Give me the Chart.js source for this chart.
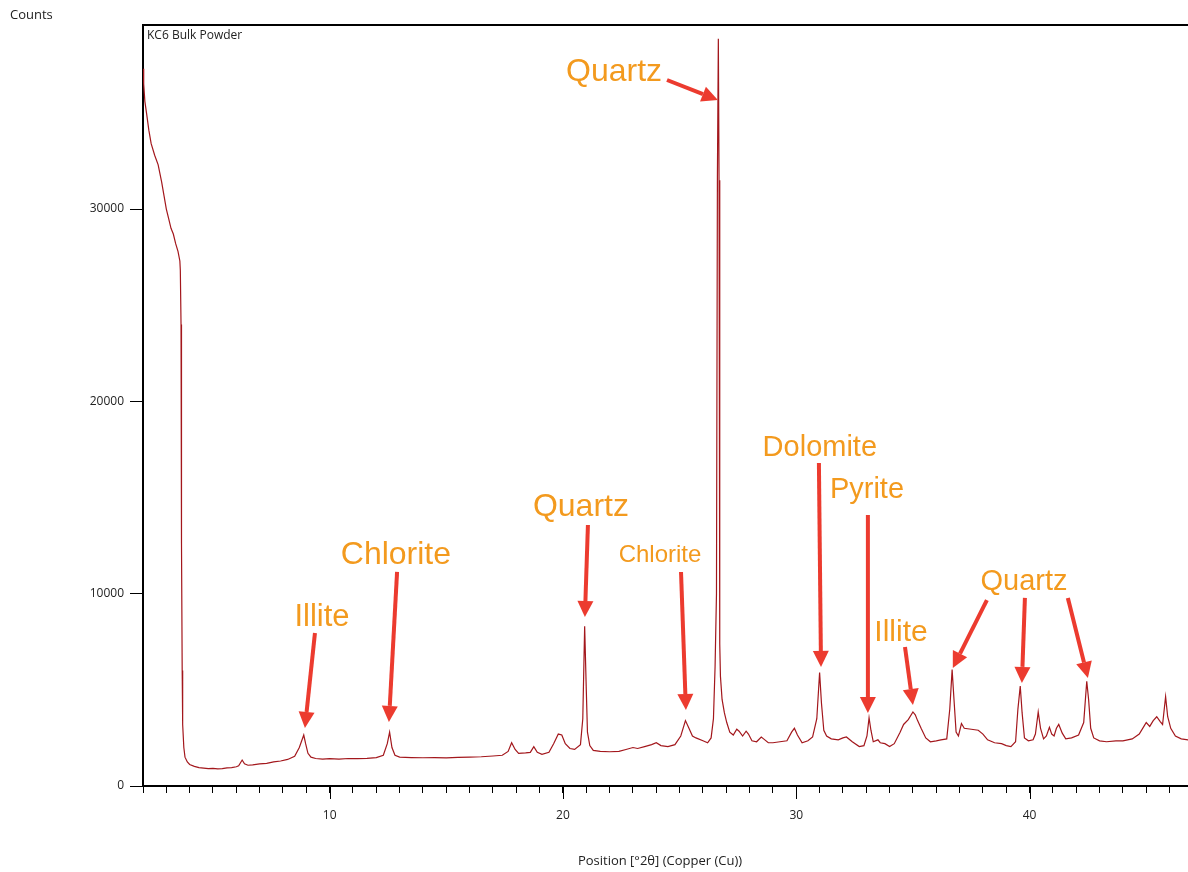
<!DOCTYPE html>
<html lang="en">
<head>
  <meta charset="UTF-8" />
  <title>KC6 Bulk Powder</title>
  <script src="https://cdn.jsdelivr.net/npm/chart.js"></script>
  <style>
    html, body { margin: 0; padding: 0; background: #fff; }
    #wrap { width: 1188px; height: 872px; position: relative; }
  </style>
</head>
<body>
  <div id="wrap"><canvas id="xrd"></canvas></div>

  <script>
    // diffraction pattern: position (°2θ) and counts
    const twoTheta = [
      2.00, 2.03, 2.08, 2.15, 2.25, 2.35, 2.50, 2.65, 2.80, 2.90, 3.00, 3.10, 3.20, 3.30, 3.40, 3.50, 3.58, 3.60,
      3.63, 3.64, 3.66, 3.68, 3.70, 3.75, 3.80, 3.90, 4.00, 4.20, 4.40, 4.60, 4.80, 5.00, 5.20, 5.40, 5.60, 5.80,
      6.00, 6.10, 6.25, 6.35, 6.50, 6.70, 7.00, 7.30, 7.60, 7.90, 8.20, 8.50, 8.70, 8.89, 8.97, 9.07, 9.20, 9.40,
      9.70, 10.0, 10.4, 10.8, 11.2, 11.6, 12.0, 12.3, 12.47, 12.57, 12.67, 12.8, 13.0, 13.5, 14.0, 14.5, 15.0, 15.5,
      16.0, 16.5, 17.0, 17.4, 17.65, 17.8, 17.95, 18.1, 18.4, 18.6, 18.75, 18.9, 19.1, 19.4, 19.6, 19.8, 19.95, 20.1,
      20.3, 20.5, 20.75, 20.85, 20.93, 21.0, 21.05, 21.15, 21.3, 21.6, 22.0, 22.4, 22.7, 23.0, 23.2, 23.5, 23.8, 24.0,
      24.2, 24.5, 24.8, 25.05, 25.25, 25.4, 25.55, 25.7, 26.0, 26.2, 26.35, 26.45, 26.52, 26.58, 26.62, 26.66, 26.69,
      26.72, 26.75, 26.82, 26.92, 27.02, 27.15, 27.3, 27.45, 27.55, 27.7, 27.85, 27.95, 28.1, 28.3, 28.5, 28.6, 28.8,
      29.0, 29.3, 29.6, 29.8, 29.92, 30.05, 30.25, 30.5, 30.7, 30.88, 31.0, 31.08, 31.18, 31.3, 31.5, 31.8, 32.0,
      32.15, 32.4, 32.7, 32.9, 33.03, 33.12, 33.2, 33.3, 33.5, 33.6, 33.8, 34.0, 34.2, 34.45, 34.6, 34.8, 35.0,
      35.1, 35.2, 35.35, 35.55, 35.75, 36.0, 36.2, 36.45, 36.58, 36.68, 36.76, 36.85, 36.95, 37.08, 37.2, 37.5,
      37.8, 38.0, 38.2, 38.5, 38.8, 39.0, 39.2, 39.4, 39.5, 39.6, 39.68, 39.78, 39.95, 40.15, 40.25, 40.37, 40.47,
      40.6, 40.72, 40.85, 40.95, 41.05, 41.15, 41.25, 41.4, 41.55, 41.8, 42.1, 42.32, 42.45, 42.53, 42.62, 42.75,
      43.0, 43.3, 43.7, 44.0, 44.4, 44.7, 44.9, 45.0, 45.15, 45.3, 45.45, 45.6, 45.7, 45.83, 45.92, 46.05, 46.25,
      46.5, 46.8
    ];
    const counts = [
      37300, 36500, 35600, 35000, 34100, 33400, 32800, 32300, 31400, 30700, 30000, 29500, 29000, 28700, 28200, 27800, 27300, 26800,
      24000, 13000, 12600, 6000, 3200, 2000, 1500, 1250, 1120, 1020, 960, 930, 900, 920, 890, 900, 940, 960,
      1000, 1050, 1350, 1150, 1080, 1100, 1150, 1180, 1250, 1300, 1380, 1550, 2000, 2650, 2200, 1700, 1500, 1430,
      1400, 1420, 1400, 1430, 1420, 1440, 1480, 1600, 2200, 2800, 2000, 1600, 1500, 1480, 1470, 1480, 1460, 1490,
      1500, 1520, 1560, 1600, 1800, 2250, 1900, 1700, 1720, 1750, 2050, 1750, 1650, 1750, 2200, 2700, 2650, 2200,
      1950, 1900, 2150, 3500, 8300, 5000, 2800, 2100, 1850, 1800, 1780, 1800, 1900, 2000, 1950, 2050, 2150, 2250,
      2100, 2050, 2150, 2600, 3400, 3000, 2600, 2500, 2350, 2250, 2500, 3500, 6200, 10000, 31700, 38850, 31500,
      7400, 5700, 4500, 3800, 3300, 2800, 2650, 2950, 2850, 2600, 2850, 2700, 2350, 2300, 2550, 2450, 2250,
      2250, 2300, 2350, 2800, 3000, 2650, 2250, 2350, 2550, 3500, 5900, 4300, 2900, 2600, 2450, 2400, 2500,
      2550, 2300, 2050, 2100, 2600, 3550, 2900, 2300, 2400, 2250, 2200, 2050, 2200, 2800, 3200, 3450, 3850,
      3700, 3400, 3000, 2500, 2300, 2350, 2400, 2450, 4000, 6050, 4500, 2800, 2600, 3250, 3000, 2950,
      2900, 2700, 2400, 2250, 2200, 2100, 2050, 2300, 4000, 5200, 3800, 2500, 2350, 2400, 2700, 3850, 3000,
      2450, 2600, 3050, 2700, 2600, 3000, 3200, 2750, 2450, 2500, 2650, 3300, 5450, 4500, 3000, 2500,
      2350, 2300, 2350, 2350, 2450, 2700, 3100, 3300, 3100, 3400, 3600, 3350, 3200, 4650, 3600, 3000, 2600,
      2450, 2400
    ];

    const countTicks = [0, 10000, 20000, 30000];
    const majorTicks = [10, 20, 30, 40];

    // phase labels (position in °2θ / counts) and font size
    const phaseNames = ['Quartz', 'Illite', 'Chlorite', 'Quartz', 'Chlorite', 'Dolomite', 'Pyrite', 'Illite', 'Quartz'];
    const phaseX     = [22.19, 9.67, 12.84, 20.77, 24.16, 31.01, 33.03, 34.49, 39.76];
    const phaseY     = [37130, 8740, 12010, 14510, 12010, 17580, 15390, 7960, 10610];
    const phaseSize  = [32, 31, 32, 32, 24, 29, 29, 30, 29];

    // arrows from label to peak
    const arrowFromX = [24.46, 9.37, 12.89, 21.07, 25.06, 30.97, 33.07, 34.66, 38.17, 39.80, 41.64];
    const arrowFromY = [36710, 7960, 11130, 13570, 11130, 16800, 14090, 7230, 9670, 9780, 9780];
    const arrowToX   = [26.64, 8.94, 12.54, 20.94, 25.27, 31.06, 33.07, 35.00, 36.71, 39.67, 42.50];
    const arrowToY   = [35670, 3020, 3330, 8790, 3950, 6190, 3800, 4210, 6140, 5360, 5620];

    const xMin = 2, xMax = 46.79;
    const yMax = 39570;

    const points = twoTheta.map((t, i) => ({ x: t, y: counts[i] }));

    const uiFont = '"Open Sans", "DejaVu Sans", sans-serif';
    const labelFont = '"Liberation Sans", Arial, sans-serif';

    const decorations = {
      id: 'decorations',
      afterDraw(chart) {
        const { ctx, chartArea, scales } = chart;
        const xs = scales.x, ys = scales.y;
        ctx.save();

        // frame top line
        ctx.strokeStyle = '#000';
        ctx.lineWidth = 2;
        ctx.beginPath();
        ctx.moveTo(chartArea.left - 1, chartArea.top);
        ctx.lineTo(chartArea.right, chartArea.top);
        ctx.stroke();

        // longer ticks at the decades
        ctx.lineWidth = 1;
        majorTicks.forEach(v => {
          const px = Math.round(xs.getPixelForValue(v)) + 0.5;
          ctx.beginPath();
          ctx.moveTo(px, chartArea.bottom);
          ctx.lineTo(px, chartArea.bottom + 13);
          ctx.stroke();
        });

        // texts
        ctx.fillStyle = '#222';
        ctx.font = '12px ' + uiFont;
        ctx.textBaseline = 'middle';
        ctx.textAlign = 'left';
        ctx.fillText('KC6 Bulk Powder', chartArea.left + 4, chartArea.top + 11);
        ctx.font = '13px ' + uiFont;
        ctx.fillText('Counts', 10, 15);
        ctx.textAlign = 'center';
        ctx.fillText('Position [°2θ] (Copper (Cu))', 660, 861);

        // arrows
        ctx.strokeStyle = '#ec3b2f';
        ctx.fillStyle = '#ec3b2f';
        ctx.lineWidth = 4;
        arrowFromX.forEach((fx, i) => {
          const x1 = xs.getPixelForValue(fx), y1 = ys.getPixelForValue(arrowFromY[i]);
          const x2 = xs.getPixelForValue(arrowToX[i]), y2 = ys.getPixelForValue(arrowToY[i]);
          const ang = Math.atan2(y2 - y1, x2 - x1);
          const headLen = 16, headHalf = 8;
          const bx = x2 - headLen * Math.cos(ang), by = y2 - headLen * Math.sin(ang);
          ctx.beginPath();
          ctx.moveTo(x1, y1);
          ctx.lineTo(bx, by);
          ctx.stroke();
          ctx.beginPath();
          ctx.moveTo(x2, y2);
          ctx.lineTo(bx + headHalf * Math.sin(ang), by - headHalf * Math.cos(ang));
          ctx.lineTo(bx - headHalf * Math.sin(ang), by + headHalf * Math.cos(ang));
          ctx.closePath();
          ctx.fill();
        });

        // phase names
        ctx.fillStyle = '#f39a1e';
        ctx.textAlign = 'center';
        ctx.textBaseline = 'middle';
        phaseNames.forEach((name, i) => {
          ctx.font = phaseSize[i] + 'px ' + labelFont;
          ctx.fillText(name, xs.getPixelForValue(phaseX[i]), ys.getPixelForValue(phaseY[i]));
        });

        ctx.restore();
      }
    };

    new Chart(document.getElementById('xrd'), {
      type: 'line',
      data: {
        datasets: [{
          data: points,
          borderColor: '#a3171c',
          borderWidth: 1.2,
          pointRadius: 0,
          tension: 0,
          fill: false
        }]
      },
      options: {
        responsive: true,
        maintainAspectRatio: false,
        animation: false,
        events: [],
        layout: { padding: { top: 25, right: 0, left: 0, bottom: 0 } },
        plugins: {
          legend: { display: false },
          tooltip: { enabled: false }
        },
        scales: {
          x: {
            type: 'linear',
            min: xMin,
            max: xMax,
            afterFit: s => { s.height = 86; },
            border: { color: '#000', width: 2 },
            grid: { drawOnChartArea: false, color: '#000', tickLength: 7 },
            ticks: {
              stepSize: 1,
              autoSkip: false,
              maxRotation: 0,
              includeBounds: false,
              padding: 15,
              color: '#222',
              font: { family: uiFont, size: 12 },
              callback: v => (v % 10 === 0 ? String(v) : '')
            }
          },
          y: {
            min: 0,
            max: yMax,
            afterFit: s => { s.width = 143; },
            afterBuildTicks: s => { s.ticks = countTicks.map(v => ({ value: v })); },
            border: { color: '#000', width: 2 },
            grid: { drawOnChartArea: false, color: '#000', tickLength: 13 },
            ticks: {
              padding: 6,
              color: '#222',
              font: { family: uiFont, size: 12 },
              callback: v => String(v)
            }
          }
        }
      },
      plugins: [decorations]
    });
  </script>
</body>
</html>
